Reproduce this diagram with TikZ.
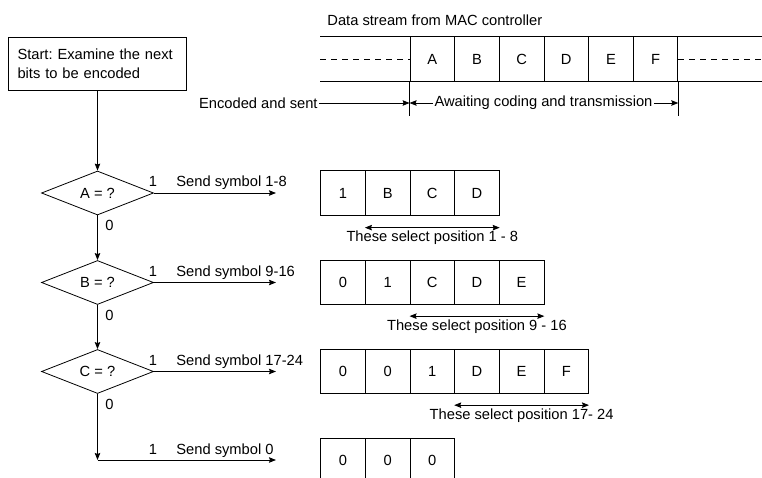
\documentclass[tikz,border=0pt]{standalone}
\usepackage{fontspec}
\setmainfont{Liberation Sans}
\frenchspacing
\usetikzlibrary{shapes.geometric, arrows.meta, positioning}
\tikzset{
	cell/.style={draw, minimum width=44.65pt, minimum height=44.5pt, inner sep=0pt},
	test/.style={draw, diamond, aspect=2.5, minimum width=112pt, minimum height=44pt, inner sep=0pt},
	lbl/.style={inner sep=1pt},
	flow/.style={-{Stealth[length=7pt, width=5.5pt, inset=1pt]}},
	both/.style={{Stealth[length=7pt, width=5.5pt, inset=1pt]}-{Stealth[length=7pt, width=5.5pt, inset=1pt]}},
	gap/.style={dash pattern=on 6pt off 5pt}
}
\begin{document}
\begin{tikzpicture}[x=1pt, y=-1pt, line width=0.8pt, font=\fontsize{14.7}{18.5}\selectfont]
	\clip (0,0) rectangle (762,478);
	\node [draw, text width=160pt, inner xsep=9pt, inner ysep=0pt, minimum height=53pt, align=left] (start) at (97.5,63.5) {Start: Examine the next\\bits to be encoded};
	\node [test] (qa) at (97.5,193) {A = ?};
	\node [test] (qb) at (97.5,282.5) {B = ?};
	\node [test] (qc) at (97.5,371.5) {C = ?};
	\coordinate (last) at (97.5,460);
	\coordinate (ea) at (276,193);
	\coordinate (eb) at (276,282.5);
	\coordinate (ec) at (276,371.5);
	\coordinate (ed) at (276,460);
	\draw [flow] (start) to (qa);
	\draw [flow] (qa) to (qb);
	\draw [flow] (qb) to (qc);
	\draw [flow] (qc) to (last);
	\draw [flow] (qa) to (ea);
	\draw [flow] (qb) to (eb);
	\draw [flow] (qc) to (ec);
	\draw [flow] (last) to (ed);
	\node [lbl, anchor=base] (ya) at (153,187) {1};
	\node [lbl, anchor=base] (yb) at (153,276.5) {1};
	\node [lbl, anchor=base] (yc) at (153,365.5) {1};
	\node [lbl, anchor=base] (yd) at (153,454) {1};
	\node [lbl, anchor=base west] (sa) at (175,187) {Send symbol 1-8};
	\node [lbl, anchor=base west] (sb) at (175,276.5) {Send symbol 9-16};
	\node [lbl, anchor=base west] (sc) at (175,365.5) {Send symbol 17-24};
	\node [lbl, anchor=base west] (sd) at (175,454) {Send symbol 0};
	\node [lbl, anchor=base west] (na) at (104,231) {0};
	\node [lbl, anchor=base west] (nb) at (104,320.5) {0};
	\node [lbl, anchor=base west] (nc) at (104,409.5) {0};

	\node [lbl, anchor=west] (title) at (326,20) {Data stream from MAC controller};
	\foreach \l [count=\i] in {A,B,C,D,E,F}
		\node [cell] (s\i) at (387.65+44.65*\i,59) {\l};
	\coordinate (sl) at (320,59);
	\coordinate (sr) at (762,59);
	\draw (sl |- s1.north) to (s1.north west);
	\draw (sl |- s1.south) to (s1.south west);
	\draw [gap] (sl) to (s1.west);
	\draw (s6.north east) to (sr |- s6.north);
	\draw (s6.south east) to (sr |- s6.south);
	\draw [gap] (s6.east) to (sr);
	\draw (s1.south west) to ++(0,34);
	\draw (s6.south east) to ++(0,34);
	\node [lbl, anchor=east] (sent) at (319,103) {Encoded and sent};
	\node [lbl] (wait) at (543.5,103) {Awaiting coding and transmission};
	\draw [flow] (sent) to (sent -| s1.west);
	\draw [flow] (wait) to (wait -| s1.west);
	\draw [flow] (wait) to (wait -| s6.east);

	\foreach \l [count=\i] in {1,B,C,D}
		\node [cell] (a\i) at (298.35+44.65*\i,193) {\l};
	\foreach \l [count=\i] in {0,1,C,D,E}
		\node [cell] (b\i) at (298.35+44.65*\i,282.5) {\l};
	\foreach \l [count=\i] in {0,0,1,D,E,F}
		\node [cell] (c\i) at (298.35+44.65*\i,371.5) {\l};
	\foreach \l [count=\i] in {0,0,0}
		\node [cell] (d\i) at (298.35+44.65*\i,460.25) {\l};
	\draw [both] ([yshift=-12pt]a2.south west) to node [lbl, below=2pt] (pa) {These select position 1 - 8} ([yshift=-12pt]a4.south east);
	\draw [both] ([yshift=-11pt]b3.south west) to node [lbl, below=2pt] (pb) {These select position 9 - 16} ([yshift=-11pt]b5.south east);
	\draw [both] ([yshift=-11pt]c4.south west) to node [lbl, below=2pt] (pc) {These select position 17- 24} ([yshift=-11pt]c6.south east);
\end{tikzpicture}
\end{document}
